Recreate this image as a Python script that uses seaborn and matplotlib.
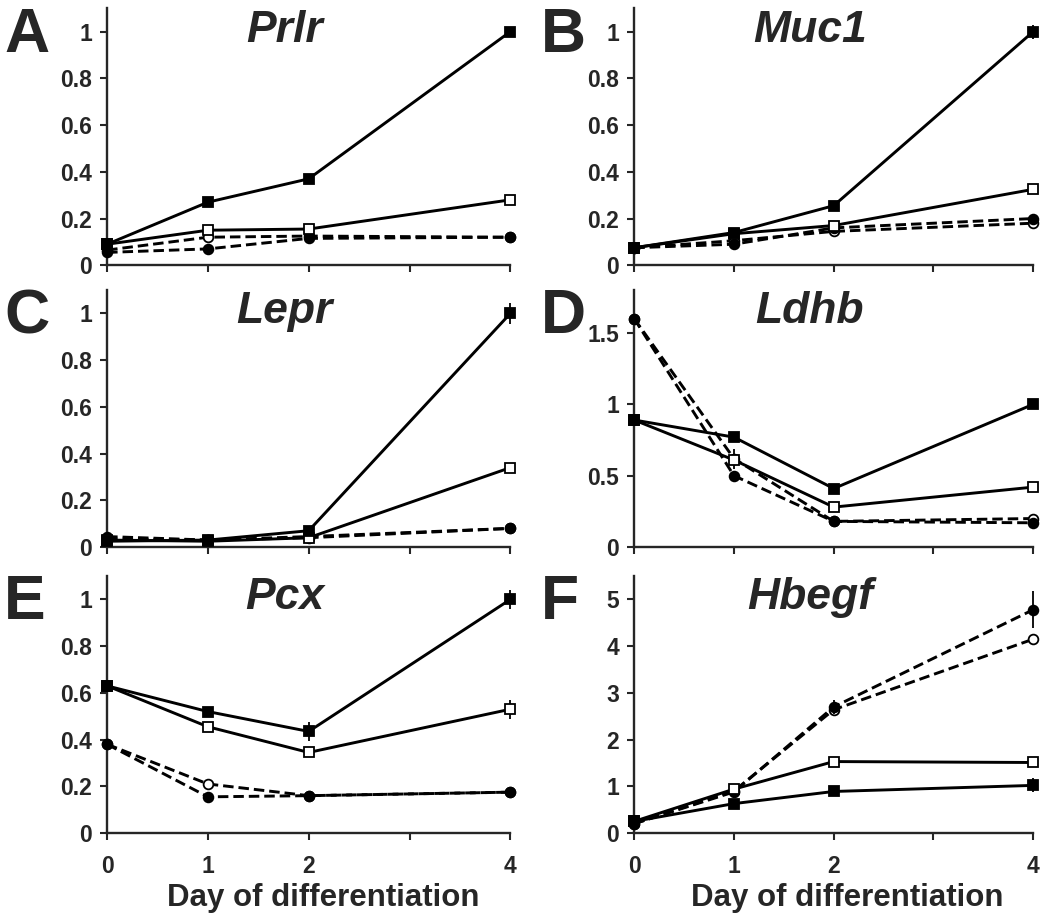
import matplotlib
matplotlib.use('Agg')
import matplotlib.pyplot as plt
import seaborn as sns

days = [0, 1, 2, 4]
tick_days = [0, 1, 2, 3, 4]
tick_names = ['0', '1', '2', '', '4']

# rows: filled square (solid), open square (solid), filled circle (dashed), open circle (dashed)
prlr = [[0.09, 0.27, 0.37, 1.0],
        [0.09, 0.15, 0.155, 0.28],
        [0.055, 0.07, 0.115, 0.12],
        [0.065, 0.12, 0.125, 0.12]]
prlr_err = [[0, 0.01, 0.01, 0.01], [0, 0.01, 0.01, 0.01], [0, 0, 0, 0], [0, 0, 0, 0]]

muc1 = [[0.075, 0.14, 0.255, 1.0],
        [0.075, 0.135, 0.17, 0.325],
        [0.075, 0.09, 0.16, 0.2],
        [0.075, 0.105, 0.145, 0.18]]
muc1_err = [[0, 0.01, 0.01, 0.03], [0, 0, 0.01, 0.01], [0, 0, 0, 0], [0, 0, 0, 0]]

lepr = [[0.025, 0.03, 0.07, 1.0],
        [0.03, 0.025, 0.04, 0.34],
        [0.045, 0.03, 0.045, 0.08],
        [0.035, 0.03, 0.04, 0.08]]
lepr_err = [[0, 0, 0.01, 0.045], [0, 0, 0, 0.01], [0, 0, 0, 0], [0, 0, 0, 0]]

ldhb = [[0.89, 0.77, 0.41, 1.0],
        [0.89, 0.61, 0.28, 0.42],
        [1.6, 0.5, 0.18, 0.17],
        [1.6, 0.62, 0.18, 0.2]]
ldhb_err = [[0, 0.02, 0.02, 0.02], [0, 0.03, 0.02, 0.03], [0.03, 0.02, 0, 0], [0, 0.07, 0, 0.02]]

pcx = [[0.63, 0.52, 0.435, 1.0],
       [0.63, 0.455, 0.345, 0.53],
       [0.38, 0.155, 0.16, 0.175],
       [0.38, 0.21, 0.16, 0.175]]
pcx_err = [[0, 0.01, 0.04, 0.04], [0, 0.01, 0.015, 0.04], [0, 0, 0, 0], [0, 0.02, 0, 0]]

hbegf = [[0.25, 0.63, 0.89, 1.02],
         [0.25, 0.94, 1.53, 1.51],
         [0.2, 0.88, 2.7, 4.78],
         [0.2, 0.9, 2.64, 4.15]]
hbegf_err = [[0, 0.05, 0.05, 0.15], [0, 0.05, 0.05, 0.05], [0, 0, 0.15, 0.4], [0, 0, 0.05, 0.12]]

genes = ['Prlr', 'Muc1', 'Lepr', 'Ldhb', 'Pcx', 'Hbegf']
letters = ['A', 'B', 'C', 'D', 'E', 'F']
values = [prlr, muc1, lepr, ldhb, pcx, hbegf]
errors = [prlr_err, muc1_err, lepr_err, ldhb_err, pcx_err, hbegf_err]

sns.set_style('ticks')
plt.rcParams['font.family'] = ['Liberation Sans', 'DejaVu Sans']
plt.rcParams['font.weight'] = 'bold'
plt.rcParams['axes.linewidth'] = 1.7

dash = (0, (3.6, 1.7))
styles = [('s', 'black', '-'), ('s', 'white', '-'),
          ('o', 'black', dash), ('o', 'white', dash)]

ylims = [1.1, 1.1, 1.1, 1.8, 1.1, 5.5]
yticks = [[0, 0.2, 0.4, 0.6, 0.8, 1]] * 3 + [[0, 0.5, 1, 1.5]] + \
         [[0, 0.2, 0.4, 0.6, 0.8, 1], [0, 1, 2, 3, 4, 5]]

fig = plt.figure(figsize=(10.5, 9.21), dpi=100)

lefts = [0.102, 0.604]
widths = [0.384, 0.380]
bottoms = [0.712, 0.406, 0.0955]
height = 0.279

for i, gene in enumerate(genes):
    row, col = divmod(i, 2)
    ax = fig.add_axes([lefts[col], bottoms[row], widths[col], height])
    # open circles first, filled squares on top
    for z, k in enumerate([3, 2, 1, 0]):
        marker, face, ls = styles[k]
        ax.errorbar(days, values[i][k], yerr=errors[i][k], fmt='none',
                    ecolor='black', elinewidth=1.3, capsize=0, clip_on=False, zorder=2 + z)
        sns.lineplot(x=days, y=values[i][k], ax=ax, color='black', errorbar=None,
                     marker=marker, markersize=6.5 if marker == 's' else 7,
                     markerfacecolor=face, markeredgecolor='black', markeredgewidth=1.3,
                     linewidth=2.1, linestyle=ls, clip_on=False, zorder=2 + z)
    ax.set_xlim(0, 4)
    ax.set_ylim(0, ylims[i])
    ax.set_xticks(tick_days)
    ax.set_yticks(yticks[i])
    ax.set_yticklabels(['%g' % t for t in yticks[i]])
    if row == 2:
        ax.set_xticklabels(tick_names)
        ax.set_xlabel('Day of differentiation', fontsize=22.5, fontweight='bold')
        ax.xaxis.set_label_coords(0.535, -0.195)
    else:
        ax.set_xticklabels([])
        ax.set_xlabel('')
    ax.set_ylabel('')
    ax.tick_params(axis='y', direction='out', length=5, width=1.5, labelsize=16.5, pad=6)
    ax.tick_params(axis='x', direction='out', length=5, width=1.5, labelsize=16.5, pad=11)
    for lab in ax.get_xticklabels() + ax.get_yticklabels():
        lab.set_fontweight('bold')
    sns.despine(ax=ax)
    ax.text(0.44, 0.995, gene, transform=ax.transAxes, ha='center', va='top',
            fontsize=32, fontweight='bold', fontstyle='italic')
    fx = 0.004 if col == 0 else 0.515
    fy = bottoms[row] + height + 0.003
    fig.text(fx, fy, letters[i], ha='left', va='top', fontsize=45, fontweight='bold')

fig.savefig('out.png', dpi=100)
